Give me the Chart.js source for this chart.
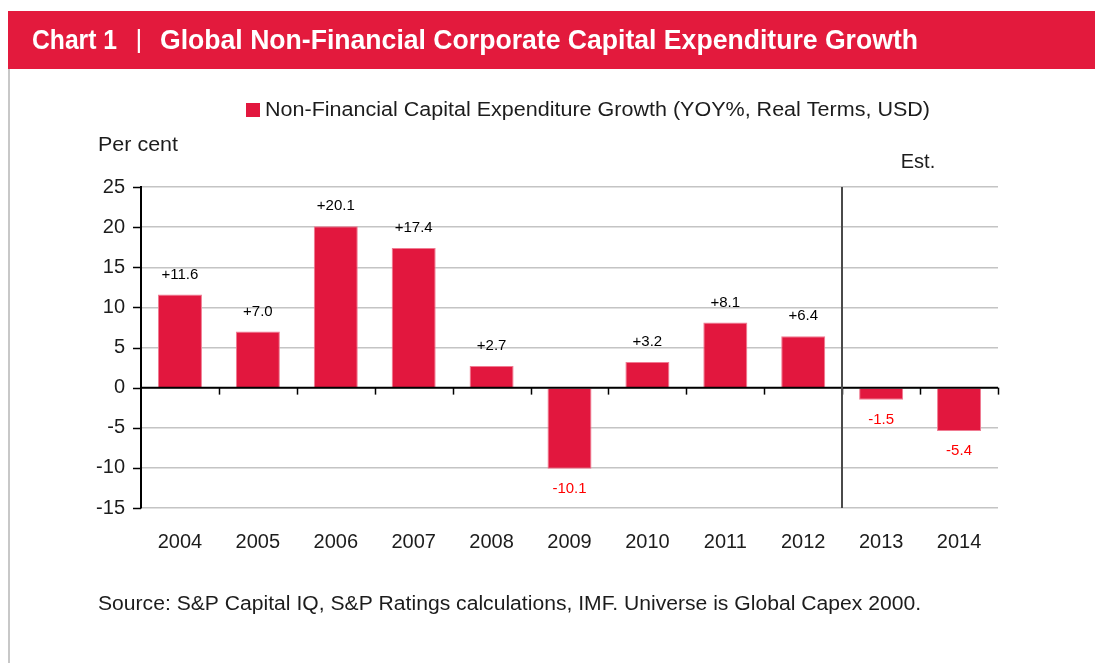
<!DOCTYPE html>
<html>
<head>
<meta charset="utf-8">
<script src="https://cdn.jsdelivr.net/npm/chart.js@4.4.1/dist/chart.umd.min.js"></script>
<style>
  html, body { margin: 0; padding: 0; background: #ffffff; }
  #wrap { width: 1095px; height: 663px; position: relative; }
</style>
</head>
<body>
<div id="wrap"><canvas id="c" width="1095" height="663"></canvas></div>
<script>
// ---- data ----
const categories = ['2004','2005','2006','2007','2008','2009','2010','2011','2012','2013','2014'];
const capexGrowth = [11.6, 7.0, 20.1, 17.4, 2.7, -10.1, 3.2, 8.1, 6.4, -1.5, -5.4];
const seriesName = 'Non-Financial Capital Expenditure Growth (YOY%, Real Terms, USD)';
const yTicks = [25, 20, 15, 10, 5, 0, -5, -10, -15];
const titleParts = ['Chart 1', '|', 'Global Non-Financial Corporate Capital Expenditure Growth'];
const yAxisTitle = 'Per cent';
const estimateLabel = 'Est.';
const estimateStart = '2013';
const sourceText = 'Source: S&P Capital IQ, S&P Ratings calculations, IMF. Universe is Global Capex 2000.';

const RED = '#E2173E';
const TEXT = '#1c1c1c';
const FONT = "'Liberation Sans', Arial, sans-serif";
const NARROW = "'Liberation Sans Narrow', 'Liberation Sans', Arial, sans-serif";

function fitText(ctx, txt, x, y, font, width, align) {
  ctx.save();
  ctx.font = font;
  const w = ctx.measureText(txt).width;
  const s = width ? width / w : 1;
  ctx.translate(x, y);
  ctx.scale(s, 1);
  ctx.textAlign = align || 'left';
  ctx.fillText(txt, 0, 0);
  ctx.restore();
}

const decorPlugin = {
  id: 'decor',
  beforeDraw(chart) {
    const ctx = chart.ctx;
    ctx.save();
    ctx.fillStyle = '#ffffff';
    ctx.fillRect(0, 0, chart.width, chart.height);
    // header band
    ctx.fillStyle = '#E31A3D';
    ctx.fillRect(8, 11, 1087, 58);
    ctx.fillStyle = '#ffffff';
    ctx.textBaseline = 'alphabetic';
    fitText(ctx, titleParts[0], 32, 49, 'bold 27px ' + NARROW, 85);
    fitText(ctx, titleParts[1], 139, 48, '26px ' + NARROW, null, 'center');
    fitText(ctx, titleParts[2], 160, 49, 'bold 27px ' + NARROW, 758);
    // left border
    ctx.strokeStyle = '#c8c8c8';
    ctx.lineWidth = 2;
    ctx.beginPath();
    ctx.moveTo(9, 69);
    ctx.lineTo(9, 663);
    ctx.stroke();
    // legend
    ctx.fillStyle = RED;
    ctx.fillRect(246, 103, 14, 14);
    ctx.fillStyle = TEXT;
    ctx.textBaseline = 'middle';
    fitText(ctx, seriesName, 265, 110, '20px ' + FONT, 665);
    // axis title
    fitText(ctx, yAxisTitle, 98, 145, '20px ' + FONT, 80);
    // source
    fitText(ctx, sourceText, 98, 604, '20px ' + FONT, 823);
    ctx.restore();
  },
  afterDatasetsDraw(chart) {
    const ctx = chart.ctx;
    const x = chart.scales.x, y = chart.scales.y;
    const area = chart.chartArea;
    ctx.save();
    // zero line
    const y0 = y.getPixelForValue(0);
    ctx.strokeStyle = '#000000';
    ctx.lineWidth = 2;
    ctx.beginPath();
    ctx.moveTo(area.left, y0);
    ctx.lineTo(area.right, y0);
    ctx.stroke();
    // category boundary ticks on zero line
    ctx.lineWidth = 1.5;
    const n = categories.length;
    const cw = (area.right - area.left) / n;
    for (let i = 1; i <= n; i++) {
      const px = Math.round(area.left + cw * i) + 0.5;
      ctx.beginPath();
      ctx.moveTo(px, y0);
      ctx.lineTo(px, y0 + 7);
      ctx.stroke();
    }
    // y-axis tick marks
    yTicks.forEach(v => {
      const py = Math.round(y.getPixelForValue(v)) + 0.5;
      ctx.beginPath();
      ctx.moveTo(area.left - 8, py);
      ctx.lineTo(area.left, py);
      ctx.stroke();
    });
    // estimate separator
    const idx = categories.indexOf(estimateStart);
    const sx = Math.round(area.left + cw * idx);
    ctx.strokeStyle = '#4a4a4a';
    ctx.lineWidth = 2;
    ctx.beginPath();
    ctx.moveTo(sx, area.top);
    ctx.lineTo(sx, area.bottom);
    ctx.stroke();
    ctx.fillStyle = TEXT;
    ctx.textBaseline = 'middle';
    fitText(ctx, estimateLabel, (sx + area.right) / 2 - 2, 162, '20px ' + FONT, null, 'center');
    // data labels
    const meta = chart.getDatasetMeta(0);
    ctx.font = '15px ' + FONT;
    ctx.textAlign = 'center';
    ctx.textBaseline = 'middle';
    meta.data.forEach((bar, i) => {
      const v = capexGrowth[i];
      if (v >= 0) {
        ctx.fillStyle = '#000000';
        ctx.fillText('+' + v.toFixed(1), bar.x, bar.y - 20);
      } else {
        ctx.fillStyle = '#ff0000';
        ctx.fillText(v.toFixed(1), bar.x, bar.y + 20);
      }
    });
    ctx.restore();
  }
};

new Chart(document.getElementById('c'), {
  type: 'bar',
  data: {
    labels: categories,
    datasets: [{
      label: seriesName,
      data: capexGrowth,
      backgroundColor: RED,
      borderColor: '#f07b92',
      borderWidth: 1,
      categoryPercentage: 1.0,
      barPercentage: 0.565
    }]
  },
  options: {
    responsive: false,
    devicePixelRatio: 1,
    animation: false,
    layout: { padding: { left: 0, top: 187, right: 97, bottom: 0 } },
    plugins: { legend: { display: false }, tooltip: { enabled: false } },
    scales: {
      x: {
        grid: { display: false, drawTicks: false },
        border: { display: false },
        ticks: { color: TEXT, font: { size: 20, family: FONT }, padding: 22, maxRotation: 0 },
        afterFit(s) { s.height = 155; }
      },
      y: {
        min: -15, max: 25,
        afterBuildTicks(s) { s.ticks = yTicks.map(v => ({ value: v })); },
        grid: { color: '#c4c4c4', lineWidth: 1.5, drawTicks: false },
        border: { display: true, color: '#000000', width: 2 },
        ticks: { color: TEXT, font: { size: 20, family: FONT }, padding: 16 },
        afterFit(s) { s.width = 141; }
      }
    }
  },
  plugins: [decorPlugin]
});
</script>
</body>
</html>
